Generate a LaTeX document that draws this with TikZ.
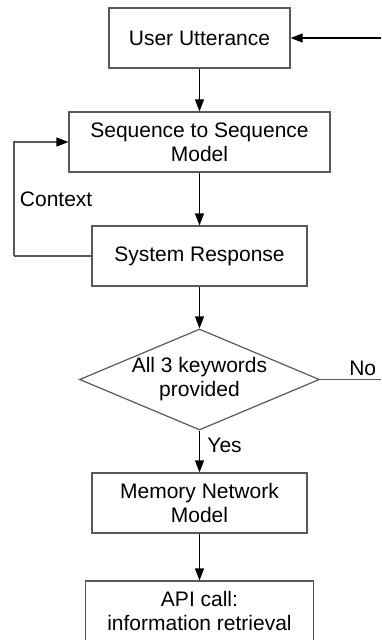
\documentclass[tikz,border=0pt]{standalone}
\usepackage{fontspec}
\setmainfont{Liberation Sans}
\usepackage{tikz}
\usetikzlibrary{positioning,shapes.geometric,arrows.meta}

\tikzset{
    block/.style={draw=black!65, line width=1.2pt, rectangle, minimum height=60pt, align=center, inner sep=0pt},
    decision/.style={draw=black!65, line width=1.2pt, diamond, aspect=2.4, inner sep=0pt, minimum width=240pt, minimum height=101pt, align=center},
    flow/.style={-{Triangle[length=12pt, width=9pt, color=black]}, line width=1.2pt, black},
    wire/.style={line width=1.2pt, draw=black!65},
}

\begin{document}
\begin{tikzpicture}[x=1pt, y=-1pt, node distance=114pt, on grid,
    font=\fontsize{21}{24}\selectfont]

    \useasboundingbox (0,0) rectangle (381,640);

    \node[block, minimum width=181pt] (utt) at (199.5,38) {User Utterance};
    \node[block, minimum width=261pt] (seq) [below=104pt of utt] {Sequence to Sequence\\Model};
    \node[block, minimum width=215pt] (resp) [below=of seq] {System Response};
    \node[decision] (check) [below=123.5pt of resp] {All 3 keywords\\provided};
    \node[block, minimum width=215pt] (mem) [below=123.5pt of check] {Memory Network\\Model};
    \node[block, minimum width=228pt] (api) [below=108pt of mem] {API call:\\information retrieval};

    \coordinate (in) at (381,38);
    \coordinate (out) at (381,379.5);
    \coordinate (loop) at (14,256);

    \draw[flow] (in) -- (utt);
    \draw[flow] (utt) -- (seq);
    \draw[flow] (seq) -- (resp);
    \draw[flow] (resp) -- (check);
    \draw[flow] (check) -- node[right, pos=.35, xshift=4pt] {Yes} (mem);
    \draw[flow] (mem) -- (api);

    % context feedback
    \draw[wire] (resp.west) -- (loop);
    \draw[flow, draw=black!65] (loop) |- node[pos=.25, right, xshift=2pt, text=black] {Context} (seq.west);

    \draw[wire] (check.east) -- node[above, pos=.7, text=black] {No} (out);

\end{tikzpicture}
\end{document}
